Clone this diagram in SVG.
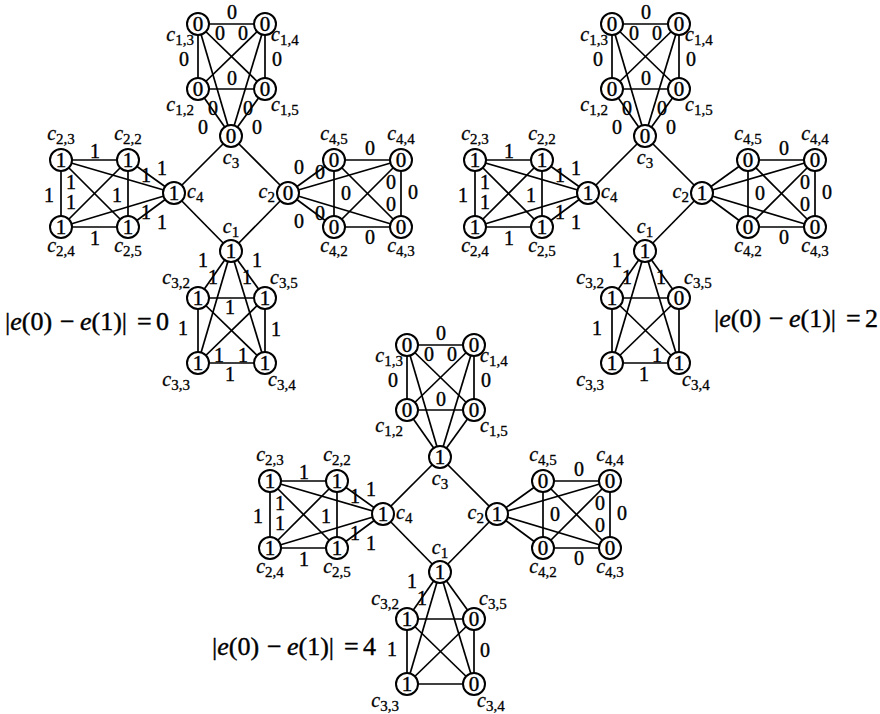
<svg xmlns="http://www.w3.org/2000/svg" width="880" height="714" viewBox="0 0 880 714" font-family="'Liberation Serif', 'DejaVu Serif', serif">
<style>
.e line{stroke:#000;stroke-width:1.7}
.n circle{fill:#fff;stroke:#000;stroke-width:2}
text{font-family:"Liberation Serif","DejaVu Serif",serif}
.v{font-size:21px;text-anchor:middle;dominant-baseline:central;stroke:#000;stroke-width:0.4}
.el{font-size:20px}
.l{font-size:20px;font-style:italic;stroke:#000;stroke-width:0.3}
.s{font-style:normal;font-size:15px}
.eq{font-size:26px;stroke:#000;stroke-width:0.4}
.i{font-style:italic}
</style>
<rect width="880" height="714" fill="#fff"/>

<!-- ================= FIGURE 1 ================= -->
<g id="fig1">
<g id="f1-connectors" class="e">
<line x1="231" y1="136" x2="174" y2="193"/><line x1="174" y1="193" x2="231" y2="251"/><line x1="231" y1="251" x2="288" y2="193"/><line x1="288" y1="193" x2="231" y2="136"/>
<line x1="198" y1="24" x2="265" y2="24"/><line x1="198" y1="89" x2="265" y2="89"/><line x1="198" y1="24" x2="198" y2="89"/><line x1="265" y1="24" x2="265" y2="89"/><line x1="198" y1="24" x2="265" y2="89"/><line x1="265" y1="24" x2="198" y2="89"/><line x1="231" y1="136" x2="198" y2="24"/><line x1="231" y1="136" x2="265" y2="24"/><line x1="231" y1="136" x2="198" y2="89"/><line x1="231" y1="136" x2="265" y2="89"/>
<line x1="61" y1="160" x2="128" y2="160"/><line x1="61" y1="227" x2="128" y2="227"/><line x1="61" y1="160" x2="61" y2="227"/><line x1="128" y1="160" x2="128" y2="227"/><line x1="61" y1="160" x2="128" y2="227"/><line x1="128" y1="160" x2="61" y2="227"/><line x1="174" y1="193" x2="61" y2="160"/><line x1="174" y1="193" x2="128" y2="160"/><line x1="174" y1="193" x2="61" y2="227"/><line x1="174" y1="193" x2="128" y2="227"/>
<line x1="334" y1="160" x2="401" y2="160"/><line x1="334" y1="227" x2="401" y2="227"/><line x1="334" y1="160" x2="334" y2="227"/><line x1="401" y1="160" x2="401" y2="227"/><line x1="334" y1="160" x2="401" y2="227"/><line x1="401" y1="160" x2="334" y2="227"/><line x1="288" y1="193" x2="334" y2="160"/><line x1="288" y1="193" x2="401" y2="160"/><line x1="288" y1="193" x2="334" y2="227"/><line x1="288" y1="193" x2="401" y2="227"/>
<line x1="198" y1="298" x2="265" y2="298"/><line x1="198" y1="363" x2="265" y2="363"/><line x1="198" y1="298" x2="198" y2="363"/><line x1="265" y1="298" x2="265" y2="363"/><line x1="198" y1="298" x2="265" y2="363"/><line x1="265" y1="298" x2="198" y2="363"/><line x1="231" y1="251" x2="198" y2="298"/><line x1="231" y1="251" x2="265" y2="298"/><line x1="231" y1="251" x2="198" y2="363"/><line x1="231" y1="251" x2="265" y2="363"/>
</g>
<g id="f1-edge-labels" class="v el">
<text x="232" y="12">0</text><text x="220" y="33">0</text><text x="243" y="33">0</text><text x="184" y="59">0</text><text x="277" y="59">0</text><text x="232" y="78">0</text><text x="213" y="108">0</text><text x="248" y="108">0</text><text x="203" y="127">0</text><text x="257" y="127">0</text>
<text x="95" y="151">1</text><text x="95" y="238">1</text><text x="49" y="195">1</text><text x="71" y="182">1</text><text x="71" y="202">1</text><text x="117" y="195">1</text><text x="146" y="175">1</text><text x="162" y="168">1</text><text x="146" y="212">1</text><text x="162" y="222">1</text>
<text x="370" y="148">0</text><text x="370" y="237">0</text><text x="346" y="193">0</text><text x="413" y="192">0</text><text x="391" y="182">0</text><text x="391" y="204">0</text><text x="299" y="167">0</text><text x="320" y="172">0</text><text x="299" y="221">0</text><text x="320" y="213">0</text>
<text x="203" y="260">1</text><text x="213" y="277">1</text><text x="247" y="277">1</text><text x="257" y="260">1</text><text x="230" y="307">1</text><text x="183" y="328">1</text><text x="276" y="329">1</text><text x="219" y="355">1</text><text x="243" y="355">1</text><text x="230" y="374">1</text>
</g>
<g id="f1-c1-3" class="n"><circle cx="198" cy="24" r="11"/><text class="v" x="198" y="24">0</text><text class="l" x="194" y="41" text-anchor="end">c<tspan class="s" dy="4">1,3</tspan></text></g>
<g id="f1-c1-4" class="n"><circle cx="265" cy="24" r="11"/><text class="v" x="265" y="24">0</text><text class="l" x="271" y="41">c<tspan class="s" dy="4">1,4</tspan></text></g>
<g id="f1-c1-2" class="n"><circle cx="198" cy="89" r="11"/><text class="v" x="198" y="89">0</text><text class="l" x="194" y="111" text-anchor="end">c<tspan class="s" dy="4">1,2</tspan></text></g>
<g id="f1-c1-5" class="n"><circle cx="265" cy="89" r="11"/><text class="v" x="265" y="89">0</text><text class="l" x="271" y="111">c<tspan class="s" dy="4">1,5</tspan></text></g>
<g id="f1-c3" class="n"><circle cx="231" cy="136" r="11"/><text class="v" x="231" y="136">0</text><text class="l" x="231" y="164" text-anchor="middle">c<tspan class="s" dy="4">3</tspan></text></g>
<g id="f1-c2-3" class="n"><circle cx="61" cy="160" r="11"/><text class="v" x="61" y="160">1</text><text class="l" x="61" y="140" text-anchor="middle">c<tspan class="s" dy="4">2,3</tspan></text></g>
<g id="f1-c2-2" class="n"><circle cx="128" cy="160" r="11"/><text class="v" x="128" y="160">1</text><text class="l" x="128" y="140" text-anchor="middle">c<tspan class="s" dy="4">2,2</tspan></text></g>
<g id="f1-c2-4" class="n"><circle cx="61" cy="227" r="11"/><text class="v" x="61" y="227">1</text><text class="l" x="61" y="252" text-anchor="middle">c<tspan class="s" dy="4">2,4</tspan></text></g>
<g id="f1-c2-5" class="n"><circle cx="128" cy="227" r="11"/><text class="v" x="128" y="227">1</text><text class="l" x="128" y="252" text-anchor="middle">c<tspan class="s" dy="4">2,5</tspan></text></g>
<g id="f1-c4" class="n"><circle cx="174" cy="193" r="11"/><text class="v" x="174" y="193">1</text><text class="l" x="187" y="198">c<tspan class="s" dy="4">4</tspan></text></g>
<g id="f1-c4-5" class="n"><circle cx="334" cy="160" r="11"/><text class="v" x="334" y="160">0</text><text class="l" x="334" y="140" text-anchor="middle">c<tspan class="s" dy="4">4,5</tspan></text></g>
<g id="f1-c4-4" class="n"><circle cx="401" cy="160" r="11"/><text class="v" x="401" y="160">0</text><text class="l" x="401" y="140" text-anchor="middle">c<tspan class="s" dy="4">4,4</tspan></text></g>
<g id="f1-c4-2" class="n"><circle cx="334" cy="227" r="11"/><text class="v" x="334" y="227">0</text><text class="l" x="334" y="252" text-anchor="middle">c<tspan class="s" dy="4">4,2</tspan></text></g>
<g id="f1-c4-3" class="n"><circle cx="401" cy="227" r="11"/><text class="v" x="401" y="227">0</text><text class="l" x="401" y="252" text-anchor="middle">c<tspan class="s" dy="4">4,3</tspan></text></g>
<g id="f1-c2" class="n"><circle cx="288" cy="193" r="11"/><text class="v" x="288" y="193">0</text><text class="l" x="275" y="198" text-anchor="end">c<tspan class="s" dy="4">2</tspan></text></g>
<g id="f1-c1" class="n"><circle cx="231" cy="251" r="11"/><text class="v" x="231" y="251">1</text><text class="l" x="231" y="233" text-anchor="middle">c<tspan class="s" dy="4">1</tspan></text></g>
<g id="f1-c3-2" class="n"><circle cx="198" cy="298" r="11"/><text class="v" x="198" y="298">1</text><text class="l" x="190" y="284" text-anchor="end">c<tspan class="s" dy="4">3,2</tspan></text></g>
<g id="f1-c3-5" class="n"><circle cx="265" cy="298" r="11"/><text class="v" x="265" y="298">1</text><text class="l" x="270" y="284">c<tspan class="s" dy="4">3,5</tspan></text></g>
<g id="f1-c3-3" class="n"><circle cx="198" cy="363" r="11"/><text class="v" x="198" y="363">1</text><text class="l" x="190" y="386" text-anchor="end">c<tspan class="s" dy="4">3,3</tspan></text></g>
<g id="f1-c3-4" class="n"><circle cx="265" cy="363" r="11"/><text class="v" x="265" y="363">1</text><text class="l" x="268" y="386">c<tspan class="s" dy="4">3,4</tspan></text></g>
</g>

<!-- ================= FIGURE 2 ================= -->
<g id="fig2" transform="translate(414,0)">
<g id="f2-connectors" class="e">
<line x1="231" y1="136" x2="174" y2="193"/><line x1="174" y1="193" x2="231" y2="251"/><line x1="231" y1="251" x2="288" y2="193"/><line x1="288" y1="193" x2="231" y2="136"/>
<line x1="198" y1="24" x2="265" y2="24"/><line x1="198" y1="89" x2="265" y2="89"/><line x1="198" y1="24" x2="198" y2="89"/><line x1="265" y1="24" x2="265" y2="89"/><line x1="198" y1="24" x2="265" y2="89"/><line x1="265" y1="24" x2="198" y2="89"/><line x1="231" y1="136" x2="198" y2="24"/><line x1="231" y1="136" x2="265" y2="24"/><line x1="231" y1="136" x2="198" y2="89"/><line x1="231" y1="136" x2="265" y2="89"/>
<line x1="61" y1="160" x2="128" y2="160"/><line x1="61" y1="227" x2="128" y2="227"/><line x1="61" y1="160" x2="61" y2="227"/><line x1="128" y1="160" x2="128" y2="227"/><line x1="61" y1="160" x2="128" y2="227"/><line x1="128" y1="160" x2="61" y2="227"/><line x1="174" y1="193" x2="61" y2="160"/><line x1="174" y1="193" x2="128" y2="160"/><line x1="174" y1="193" x2="61" y2="227"/><line x1="174" y1="193" x2="128" y2="227"/>
<line x1="334" y1="160" x2="401" y2="160"/><line x1="334" y1="227" x2="401" y2="227"/><line x1="334" y1="160" x2="334" y2="227"/><line x1="401" y1="160" x2="401" y2="227"/><line x1="334" y1="160" x2="401" y2="227"/><line x1="401" y1="160" x2="334" y2="227"/><line x1="288" y1="193" x2="334" y2="160"/><line x1="288" y1="193" x2="401" y2="160"/><line x1="288" y1="193" x2="334" y2="227"/><line x1="288" y1="193" x2="401" y2="227"/>
<line x1="198" y1="298" x2="265" y2="298"/><line x1="198" y1="363" x2="265" y2="363"/><line x1="198" y1="298" x2="198" y2="363"/><line x1="265" y1="298" x2="265" y2="363"/><line x1="198" y1="298" x2="265" y2="363"/><line x1="265" y1="298" x2="198" y2="363"/><line x1="231" y1="251" x2="198" y2="298"/><line x1="231" y1="251" x2="265" y2="298"/><line x1="231" y1="251" x2="198" y2="363"/><line x1="231" y1="251" x2="265" y2="363"/>
</g>
<g id="f2-edge-labels" class="v el">
<text x="232" y="12">0</text><text x="220" y="33">0</text><text x="243" y="33">0</text><text x="184" y="59">0</text><text x="277" y="59">0</text><text x="232" y="78">0</text><text x="213" y="108">0</text><text x="248" y="108">0</text><text x="203" y="127">0</text><text x="257" y="127">0</text>
<text x="95" y="151">1</text><text x="95" y="238">1</text><text x="49" y="195">1</text><text x="71" y="182">1</text><text x="71" y="202">1</text><text x="117" y="195">1</text><text x="146" y="175">1</text><text x="162" y="168">1</text><text x="146" y="212">1</text><text x="162" y="222">1</text>
<text x="370" y="148">0</text><text x="370" y="237">0</text><text x="346" y="193">0</text><text x="413" y="192">0</text><text x="391" y="182">0</text><text x="391" y="204">0</text>
<text x="203" y="260">1</text><text x="213" y="277">1</text><text x="247" y="277">1</text><text x="183" y="328">1</text><text x="243" y="355">1</text><text x="230" y="374">1</text>
</g>
<g id="f2-c1-3" class="n"><circle cx="198" cy="24" r="11"/><text class="v" x="198" y="24">0</text><text class="l" x="194" y="41" text-anchor="end">c<tspan class="s" dy="4">1,3</tspan></text></g>
<g id="f2-c1-4" class="n"><circle cx="265" cy="24" r="11"/><text class="v" x="265" y="24">0</text><text class="l" x="271" y="41">c<tspan class="s" dy="4">1,4</tspan></text></g>
<g id="f2-c1-2" class="n"><circle cx="198" cy="89" r="11"/><text class="v" x="198" y="89">0</text><text class="l" x="194" y="111" text-anchor="end">c<tspan class="s" dy="4">1,2</tspan></text></g>
<g id="f2-c1-5" class="n"><circle cx="265" cy="89" r="11"/><text class="v" x="265" y="89">0</text><text class="l" x="271" y="111">c<tspan class="s" dy="4">1,5</tspan></text></g>
<g id="f2-c3" class="n"><circle cx="231" cy="136" r="11"/><text class="v" x="231" y="136">0</text><text class="l" x="231" y="164" text-anchor="middle">c<tspan class="s" dy="4">3</tspan></text></g>
<g id="f2-c2-3" class="n"><circle cx="61" cy="160" r="11"/><text class="v" x="61" y="160">1</text><text class="l" x="61" y="140" text-anchor="middle">c<tspan class="s" dy="4">2,3</tspan></text></g>
<g id="f2-c2-2" class="n"><circle cx="128" cy="160" r="11"/><text class="v" x="128" y="160">1</text><text class="l" x="128" y="140" text-anchor="middle">c<tspan class="s" dy="4">2,2</tspan></text></g>
<g id="f2-c2-4" class="n"><circle cx="61" cy="227" r="11"/><text class="v" x="61" y="227">1</text><text class="l" x="61" y="252" text-anchor="middle">c<tspan class="s" dy="4">2,4</tspan></text></g>
<g id="f2-c2-5" class="n"><circle cx="128" cy="227" r="11"/><text class="v" x="128" y="227">1</text><text class="l" x="128" y="252" text-anchor="middle">c<tspan class="s" dy="4">2,5</tspan></text></g>
<g id="f2-c4" class="n"><circle cx="174" cy="193" r="11"/><text class="v" x="174" y="193">1</text><text class="l" x="187" y="198">c<tspan class="s" dy="4">4</tspan></text></g>
<g id="f2-c4-5" class="n"><circle cx="334" cy="160" r="11"/><text class="v" x="334" y="160">0</text><text class="l" x="334" y="140" text-anchor="middle">c<tspan class="s" dy="4">4,5</tspan></text></g>
<g id="f2-c4-4" class="n"><circle cx="401" cy="160" r="11"/><text class="v" x="401" y="160">0</text><text class="l" x="401" y="140" text-anchor="middle">c<tspan class="s" dy="4">4,4</tspan></text></g>
<g id="f2-c4-2" class="n"><circle cx="334" cy="227" r="11"/><text class="v" x="334" y="227">0</text><text class="l" x="334" y="252" text-anchor="middle">c<tspan class="s" dy="4">4,2</tspan></text></g>
<g id="f2-c4-3" class="n"><circle cx="401" cy="227" r="11"/><text class="v" x="401" y="227">0</text><text class="l" x="401" y="252" text-anchor="middle">c<tspan class="s" dy="4">4,3</tspan></text></g>
<g id="f2-c2" class="n"><circle cx="288" cy="193" r="11"/><text class="v" x="288" y="193">1</text><text class="l" x="275" y="198" text-anchor="end">c<tspan class="s" dy="4">2</tspan></text></g>
<g id="f2-c1" class="n"><circle cx="231" cy="251" r="11"/><text class="v" x="231" y="251">1</text><text class="l" x="231" y="233" text-anchor="middle">c<tspan class="s" dy="4">1</tspan></text></g>
<g id="f2-c3-2" class="n"><circle cx="198" cy="298" r="11"/><text class="v" x="198" y="298">1</text><text class="l" x="190" y="284" text-anchor="end">c<tspan class="s" dy="4">3,2</tspan></text></g>
<g id="f2-c3-5" class="n"><circle cx="265" cy="298" r="11"/><text class="v" x="265" y="298">0</text><text class="l" x="270" y="284">c<tspan class="s" dy="4">3,5</tspan></text></g>
<g id="f2-c3-3" class="n"><circle cx="198" cy="363" r="11"/><text class="v" x="198" y="363">1</text><text class="l" x="190" y="386" text-anchor="end">c<tspan class="s" dy="4">3,3</tspan></text></g>
<g id="f2-c3-4" class="n"><circle cx="265" cy="363" r="11"/><text class="v" x="265" y="363">1</text><text class="l" x="268" y="386">c<tspan class="s" dy="4">3,4</tspan></text></g>
</g>

<!-- ================= FIGURE 3 ================= -->
<g id="fig3" transform="translate(209,321)">
<g id="f3-connectors" class="e">
<line x1="231" y1="136" x2="174" y2="193"/><line x1="174" y1="193" x2="231" y2="251"/><line x1="231" y1="251" x2="288" y2="193"/><line x1="288" y1="193" x2="231" y2="136"/>
<line x1="198" y1="24" x2="265" y2="24"/><line x1="198" y1="89" x2="265" y2="89"/><line x1="198" y1="24" x2="198" y2="89"/><line x1="265" y1="24" x2="265" y2="89"/><line x1="198" y1="24" x2="265" y2="89"/><line x1="265" y1="24" x2="198" y2="89"/><line x1="231" y1="136" x2="198" y2="24"/><line x1="231" y1="136" x2="265" y2="24"/><line x1="231" y1="136" x2="198" y2="89"/><line x1="231" y1="136" x2="265" y2="89"/>
<line x1="61" y1="160" x2="128" y2="160"/><line x1="61" y1="227" x2="128" y2="227"/><line x1="61" y1="160" x2="61" y2="227"/><line x1="128" y1="160" x2="128" y2="227"/><line x1="61" y1="160" x2="128" y2="227"/><line x1="128" y1="160" x2="61" y2="227"/><line x1="174" y1="193" x2="61" y2="160"/><line x1="174" y1="193" x2="128" y2="160"/><line x1="174" y1="193" x2="61" y2="227"/><line x1="174" y1="193" x2="128" y2="227"/>
<line x1="334" y1="160" x2="401" y2="160"/><line x1="334" y1="227" x2="401" y2="227"/><line x1="334" y1="160" x2="334" y2="227"/><line x1="401" y1="160" x2="401" y2="227"/><line x1="334" y1="160" x2="401" y2="227"/><line x1="401" y1="160" x2="334" y2="227"/><line x1="288" y1="193" x2="334" y2="160"/><line x1="288" y1="193" x2="401" y2="160"/><line x1="288" y1="193" x2="334" y2="227"/><line x1="288" y1="193" x2="401" y2="227"/>
<line x1="198" y1="298" x2="265" y2="298"/><line x1="198" y1="363" x2="265" y2="363"/><line x1="198" y1="298" x2="198" y2="363"/><line x1="265" y1="298" x2="265" y2="363"/><line x1="198" y1="298" x2="265" y2="363"/><line x1="265" y1="298" x2="198" y2="363"/><line x1="231" y1="251" x2="198" y2="298"/><line x1="231" y1="251" x2="265" y2="298"/><line x1="231" y1="251" x2="198" y2="363"/><line x1="231" y1="251" x2="265" y2="363"/>
</g>
<g id="f3-edge-labels" class="v el">
<text x="232" y="12">0</text><text x="220" y="33">0</text><text x="243" y="33">0</text><text x="184" y="59">0</text><text x="277" y="59">0</text><text x="232" y="78">0</text>
<text x="95" y="151">1</text><text x="95" y="238">1</text><text x="49" y="195">1</text><text x="71" y="182">1</text><text x="71" y="202">1</text><text x="117" y="195">1</text><text x="146" y="175">1</text><text x="162" y="168">1</text><text x="146" y="212">1</text><text x="162" y="222">1</text>
<text x="370" y="148">0</text><text x="370" y="237">0</text><text x="346" y="193">0</text><text x="413" y="192">0</text><text x="391" y="182">0</text><text x="391" y="204">0</text>
<text x="203" y="260">1</text><text x="213" y="277">1</text><text x="183" y="328">1</text><text x="276" y="329">0</text>
</g>
<g id="f3-c1-3" class="n"><circle cx="198" cy="24" r="11"/><text class="v" x="198" y="24">0</text><text class="l" x="194" y="41" text-anchor="end">c<tspan class="s" dy="4">1,3</tspan></text></g>
<g id="f3-c1-4" class="n"><circle cx="265" cy="24" r="11"/><text class="v" x="265" y="24">0</text><text class="l" x="271" y="41">c<tspan class="s" dy="4">1,4</tspan></text></g>
<g id="f3-c1-2" class="n"><circle cx="198" cy="89" r="11"/><text class="v" x="198" y="89">0</text><text class="l" x="194" y="111" text-anchor="end">c<tspan class="s" dy="4">1,2</tspan></text></g>
<g id="f3-c1-5" class="n"><circle cx="265" cy="89" r="11"/><text class="v" x="265" y="89">0</text><text class="l" x="271" y="111">c<tspan class="s" dy="4">1,5</tspan></text></g>
<g id="f3-c3" class="n"><circle cx="231" cy="136" r="11"/><text class="v" x="231" y="136">1</text><text class="l" x="231" y="164" text-anchor="middle">c<tspan class="s" dy="4">3</tspan></text></g>
<g id="f3-c2-3" class="n"><circle cx="61" cy="160" r="11"/><text class="v" x="61" y="160">1</text><text class="l" x="61" y="140" text-anchor="middle">c<tspan class="s" dy="4">2,3</tspan></text></g>
<g id="f3-c2-2" class="n"><circle cx="128" cy="160" r="11"/><text class="v" x="128" y="160">1</text><text class="l" x="128" y="140" text-anchor="middle">c<tspan class="s" dy="4">2,2</tspan></text></g>
<g id="f3-c2-4" class="n"><circle cx="61" cy="227" r="11"/><text class="v" x="61" y="227">1</text><text class="l" x="61" y="252" text-anchor="middle">c<tspan class="s" dy="4">2,4</tspan></text></g>
<g id="f3-c2-5" class="n"><circle cx="128" cy="227" r="11"/><text class="v" x="128" y="227">1</text><text class="l" x="128" y="252" text-anchor="middle">c<tspan class="s" dy="4">2,5</tspan></text></g>
<g id="f3-c4" class="n"><circle cx="174" cy="193" r="11"/><text class="v" x="174" y="193">1</text><text class="l" x="187" y="198">c<tspan class="s" dy="4">4</tspan></text></g>
<g id="f3-c4-5" class="n"><circle cx="334" cy="160" r="11"/><text class="v" x="334" y="160">0</text><text class="l" x="334" y="140" text-anchor="middle">c<tspan class="s" dy="4">4,5</tspan></text></g>
<g id="f3-c4-4" class="n"><circle cx="401" cy="160" r="11"/><text class="v" x="401" y="160">0</text><text class="l" x="401" y="140" text-anchor="middle">c<tspan class="s" dy="4">4,4</tspan></text></g>
<g id="f3-c4-2" class="n"><circle cx="334" cy="227" r="11"/><text class="v" x="334" y="227">0</text><text class="l" x="334" y="252" text-anchor="middle">c<tspan class="s" dy="4">4,2</tspan></text></g>
<g id="f3-c4-3" class="n"><circle cx="401" cy="227" r="11"/><text class="v" x="401" y="227">0</text><text class="l" x="401" y="252" text-anchor="middle">c<tspan class="s" dy="4">4,3</tspan></text></g>
<g id="f3-c2" class="n"><circle cx="288" cy="193" r="11"/><text class="v" x="288" y="193">1</text><text class="l" x="275" y="198" text-anchor="end">c<tspan class="s" dy="4">2</tspan></text></g>
<g id="f3-c1" class="n"><circle cx="231" cy="251" r="11"/><text class="v" x="231" y="251">1</text><text class="l" x="231" y="233" text-anchor="middle">c<tspan class="s" dy="4">1</tspan></text></g>
<g id="f3-c3-2" class="n"><circle cx="198" cy="298" r="11"/><text class="v" x="198" y="298">1</text><text class="l" x="190" y="284" text-anchor="end">c<tspan class="s" dy="4">3,2</tspan></text></g>
<g id="f3-c3-5" class="n"><circle cx="265" cy="298" r="11"/><text class="v" x="265" y="298">0</text><text class="l" x="270" y="284">c<tspan class="s" dy="4">3,5</tspan></text></g>
<g id="f3-c3-3" class="n"><circle cx="198" cy="363" r="11"/><text class="v" x="198" y="363">1</text><text class="l" x="190" y="386" text-anchor="end">c<tspan class="s" dy="4">3,3</tspan></text></g>
<g id="f3-c3-4" class="n"><circle cx="265" cy="363" r="11"/><text class="v" x="265" y="363">0</text><text class="l" x="268" y="386">c<tspan class="s" dy="4">3,4</tspan></text></g>
</g>

<!-- ================= CAPTIONS ================= -->
<g id="captions">
<text class="eq" x="5" y="330">|<tspan class="i">e</tspan>(0)<tspan x="60">−</tspan><tspan x="80" class="i">e</tspan>(1)|<tspan x="137">=</tspan><tspan x="156">0</tspan></text>
<text class="eq" x="714" y="327">|<tspan class="i">e</tspan>(0)<tspan x="769">−</tspan><tspan x="789" class="i">e</tspan>(1)|<tspan x="846">=</tspan><tspan x="865">2</tspan></text>
<text class="eq" x="212" y="655">|<tspan class="i">e</tspan>(0)<tspan x="267">−</tspan><tspan x="287" class="i">e</tspan>(1)|<tspan x="344">=</tspan><tspan x="363">4</tspan></text>
</g>
</svg>
